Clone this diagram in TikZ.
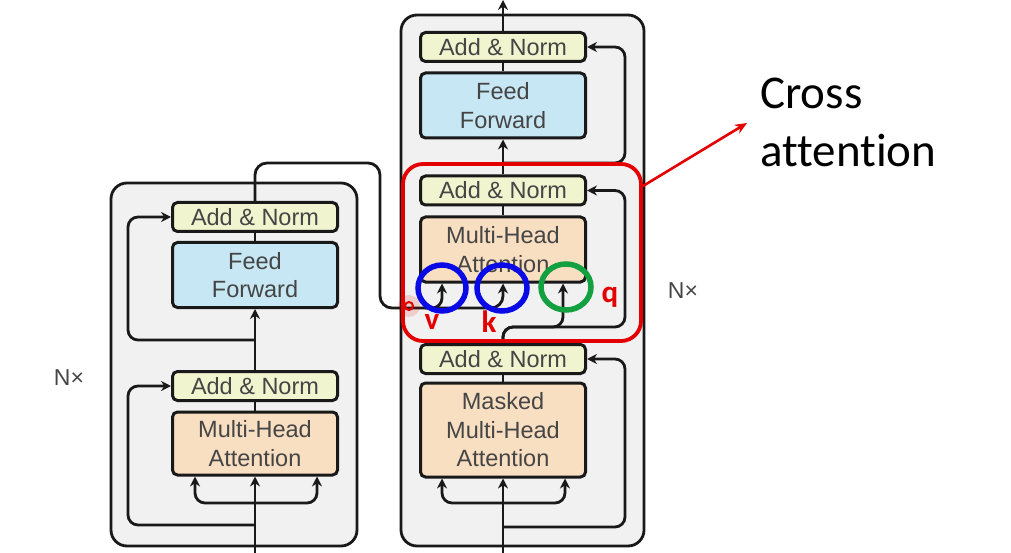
\documentclass[tikz,border=0pt]{standalone}
\usepackage{fontspec}
\newfontfamily\boxfont{Liberation Sans}
\newfontfamily\calfont[Ligatures=NoCommon]{Carlito}
\usetikzlibrary{arrows.meta,calc}
\definecolor{outerfill}{HTML}{F1F1F1}
\definecolor{anfill}{HTML}{F1F5CF}
\definecolor{fffill}{HTML}{C6E7F3}
\definecolor{mhafill}{HTML}{F9DFC2}
\definecolor{txtgray}{HTML}{454545}
\definecolor{redc}{HTML}{E40000}
\definecolor{bluec}{HTML}{0A0AE6}
\definecolor{greenc}{HTML}{12A040}
\tikzset{
  outerbox/.style={draw=black!90, line width=2.8pt, fill=outerfill, rounded corners=16pt},
  blk/.style={draw=black!90, line width=3pt, rounded corners=5pt, align=center,
    text=txtgray, font=\boxfont\fontsize{23.5}{28.5}\selectfont, inner sep=0pt},
  anbox/.style={blk, fill=anfill, minimum width=165pt, minimum height=29pt},
  ffbox/.style={blk, fill=fffill, minimum width=165pt, minimum height=65pt},
  mhabox/.style={blk, fill=mhafill, minimum width=165pt},
  ln/.style={draw=black!90, line width=2.8pt},
  arr/.style={ln, -{Stealth[length=10pt,width=10pt]}},
  ring/.style={line width=5.5pt},
  lbl/.style={text=redc, font=\calfont\bfseries\fontsize{31}{34}\selectfont, inner sep=0pt},
  nx/.style={text=txtgray, font=\boxfont\fontsize{23}{26}\selectfont, inner sep=0pt}
}
\begin{document}
\begin{tikzpicture}[x=1pt,y=-1pt]
\useasboundingbox (0,0) rectangle (1011,553);
% outer boxes
\draw[outerbox] (111,183) rectangle (357,546);
\draw[outerbox] (401,15) rectangle (644,546);
% encoder blocks
\node[anbox] (eAN2) at (255,217) {Add \& Norm};
\node[ffbox] (eFF) at (255,275) {Feed\\Forward};
\node[anbox] (eAN1) at (255,386) {Add \& Norm};
\node[mhabox, minimum height=63pt] (eMHA) at (255,443.5) {Multi-Head\\Attention};
% decoder blocks
\node[anbox] (dAN3) at (503,47) {Add \& Norm};
\node[ffbox] (dFF) at (503,105.5) {Feed\\Forward};
\node[anbox] (dAN2) at (503,190.5) {Add \& Norm};
\node[mhabox, minimum height=65pt] (dMHA2) at (503,249.5) {Multi-Head\\Attention};
\node[anbox] (dAN1) at (503,359) {Add \& Norm};
\node[mhabox, minimum height=94pt] (dMHA1) at (503,430) {Masked\\Multi-Head\\Attention};
% free ends
\coordinate (eIn) at (255,553);
\coordinate (dIn) at (503,553);
\coordinate (dOut) at (503,0);
% encoder connectors
\draw[arr] (eIn) -- (eMHA.south);
\draw[arr, rounded corners=10pt] (255,503) -| ([xshift=-60pt]eMHA.south);
\draw[arr, rounded corners=10pt] (255,503) -| ([xshift=62pt]eMHA.south);
\draw[arr, rounded corners=10pt] (255,525) -| (128,386) -- (eAN1.west);
\draw[ln] (eMHA.north) -- (eAN1.south);
\draw[arr] (eAN1.north) -- (eFF.south);
\draw[arr, rounded corners=10pt] (255,340) -| (128,217) -- (eAN2.west);
\draw[ln] (eFF.north) -- (eAN2.south);
% encoder output to decoder (v, k)
\draw[arr, rounded corners=12pt] (eAN2.north) -- (255,163) -- (380,163) -- (380,308) -- (503,308) -- (dMHA2.south);
\draw[arr, rounded corners=10pt] (425,308) -- (442,308) -- ([xshift=-61pt]dMHA2.south);
% decoder connectors
\draw[arr] (dIn) -- (dMHA1.south);
\draw[arr, rounded corners=10pt] (503,503) -| ([xshift=-61pt]dMHA1.south);
\draw[arr, rounded corners=10pt] (503,503) -| ([xshift=62pt]dMHA1.south);
\draw[arr, rounded corners=10pt] (503,527) -| (625,359) -- (dAN1.east);
\draw[ln] (dMHA1.north) -- (dAN1.south);
\draw[arr, rounded corners=10pt] (dAN1.north) |- (563,327) -- ([xshift=60pt]dMHA2.south);
\draw[arr, rounded corners=10pt] (dAN1.north) |- (625,327) -- (625,190.5) -- (dAN2.east);
\draw[ln] (dMHA2.north) -- (dAN2.south);
\draw[arr] (dAN2.north) -- (dFF.south);
\draw[arr, rounded corners=10pt] (503,163) -| (625,47) -- (dAN3.east);
\draw[ln] (dFF.north) -- (dAN3.south);
\draw[arr] (dAN3.north) -- (dOut);
% Nx labels
\node[nx] (nxL) at (69,378) {N×};
\node[nx] (nxR) at (683,291) {N×};
% red cross attention box
\draw[redc, line width=3.8pt, rounded corners=20pt] (403,164) rectangle (641,341);
\coordinate (redStart) at (643,186);
\node[font=\calfont\fontsize{47}{58}\selectfont, align=left, anchor=north west, inner sep=0pt] (cross) at (760,78) {Cross\\attention};
\coordinate (redTip) at (747,123);
\draw[redc, line width=2.6pt, -{Stealth[length=12pt,width=10pt]}] (redStart) -- (redTip);
% circles
\draw[bluec, ring] (442,288) ellipse (24pt and 23pt);
\draw[bluec, ring] (502,288) ellipse (25pt and 23pt);
\draw[greenc, ring] (566,287) ellipse (25pt and 23pt);
% red dot
\fill[redc, opacity=0.15] (409,306) circle (11pt);
\draw[redc, line width=2pt] (409,306) circle (4pt);
% v k q labels
\node[lbl] (lv) at (432,322) {v};
\node[lbl] (lk) at (489,322) {k};
\node[lbl] (lq) at (610,297) {q};
\end{tikzpicture}
\end{document}
